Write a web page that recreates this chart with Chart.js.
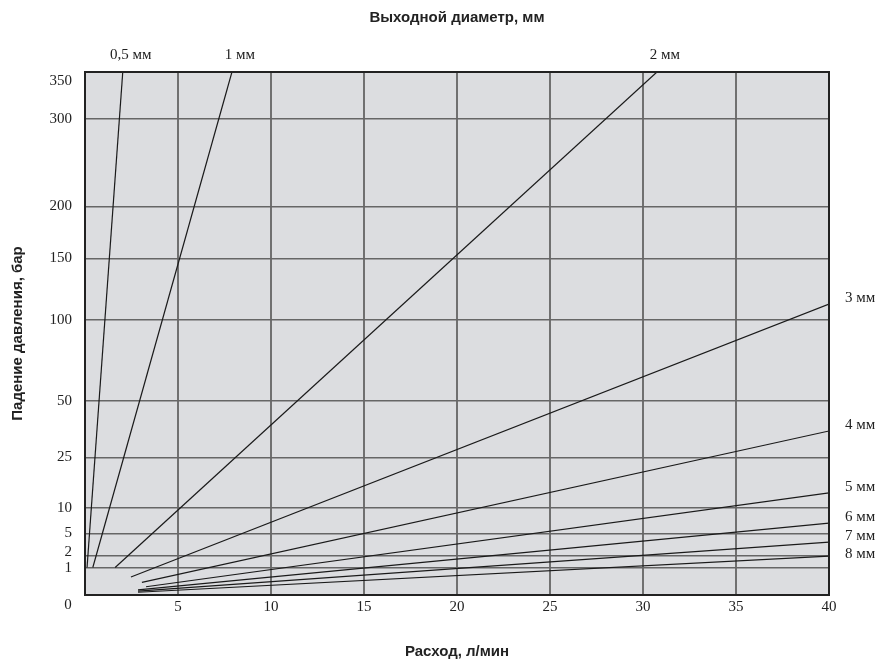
<!DOCTYPE html>
<html>
<head>
  <title>Падение давления</title>
  <script src="https://cdn.jsdelivr.net/npm/chart.js"></script>
  <style>
    body { margin: 0; background: #fff; }
    canvas { display: block; }
  </style>
</head>
<body>
  <canvas id="chart" width="878" height="661"></canvas>
  <script>
    // nozzle diameters and two ends of each line (flow l/min, pressure drop bar)
    const seriesLabels = ['0,5 мм', '1 мм', '2 мм', '3 мм', '4 мм', '5 мм', '6 мм', '7 мм', '8 мм'];
    const flowStart = [0.11, 0.42, 1.62, 2.47, 3.06, 3.28, 2.85, 2.85, 2.85];
    const dropStart = [1, 1, 1, 0.43, 0.21, 0.09, 0.035, 0.019, 0.010];
    const flowEnd = [2.03, 7.9, 30.75, 40, 40, 40, 40, 40, 40];
    const dropEnd = [362, 362, 362, 112, 35.6, 13.8, 6.85, 3.7, 2.0];

    const xTicks = [0, 5, 10, 15, 20, 25, 30, 35, 40];
    const yTicks = [0, 1, 2, 5, 10, 25, 50, 100, 150, 200, 300, 350];
    const yMax = 362;
    // small ticks that sit too close together: label drawn by hand with a nudge
    const nudgedTicks = [1, 2];
    const nudge = [1, -4];

    // square-root axis: pressure drop grows with flow squared
    class SqrtScale extends Chart.LinearScale {
      static id = 'sqrt';
      static defaults = { ticks: { callback: Chart.Ticks.formatters.numeric } };
      getPixelForValue(value) {
        const lo = Math.sqrt(Math.max(this.min, 0)), hi = Math.sqrt(this.max);
        return this.getPixelForDecimal((Math.sqrt(Math.max(value, 0)) - lo) / (hi - lo));
      }
      getValueForPixel(pixel) {
        const lo = Math.sqrt(Math.max(this.min, 0)), hi = Math.sqrt(this.max);
        const s = lo + this.getDecimalForPixel(pixel) * (hi - lo);
        return s * s;
      }
    }
    Chart.register(SqrtScale);

    const serif = { family: '"Liberation Serif", "Times New Roman", serif', size: 15 };
    const sansBold = { family: '"Liberation Sans", Arial, sans-serif', size: 15, weight: 'bold' };

    const plotFrame = {
      id: 'plotFrame',
      beforeDraw(chart) {
        const { ctx, chartArea: a } = chart;
        ctx.save();
        ctx.fillStyle = '#dcdde0';
        ctx.fillRect(a.left, a.top, a.right - a.left, a.bottom - a.top);
        ctx.restore();
      },
      afterDatasetsDraw(chart) {
        const { ctx, chartArea: a } = chart;
        ctx.save();
        ctx.strokeStyle = '#222';
        ctx.lineWidth = 2;
        ctx.strokeRect(a.left, a.top, a.right - a.left, a.bottom - a.top);
        ctx.restore();
      },
      afterDraw(chart) {
        const { ctx, chartArea: a } = chart;
        const yScale = chart.scales.y;
        ctx.save();
        ctx.font = '15px "Liberation Serif", serif';
        ctx.fillStyle = '#222';
        ctx.textBaseline = 'middle';
        // shared origin label
        ctx.textAlign = 'center';
        ctx.fillText('0', a.left - 17, a.bottom + 10);
        ctx.textAlign = 'right';
        nudgedTicks.forEach((v, i) => {
          ctx.fillText(String(v), a.left - 13, yScale.getPixelForValue(v) + nudge[i]);
        });
        // diameter labels at line ends
        let lastY = -Infinity;
        chart.data.datasets.forEach((ds, i) => {
          const pts = chart.getDatasetMeta(i).data;
          const end = pts[pts.length - 1];
          if (dropEnd[i] >= yMax) {
            ctx.textAlign = 'center';
            ctx.fillText(ds.label, end.x + 8, a.top - 17);
          } else {
            let y = Math.max(end.y - 6, lastY + 18);
            lastY = y;
            ctx.textAlign = 'left';
            ctx.fillText(ds.label, a.right + 16, y);
          }
        });
        ctx.restore();
      }
    };

    new Chart(document.getElementById('chart'), {
      type: 'line',
      data: {
        datasets: seriesLabels.map((label, i) => ({
          label: label,
          data: [{ x: flowStart[i], y: dropStart[i] }, { x: flowEnd[i], y: dropEnd[i] }],
          borderColor: '#1a1a1a',
          borderWidth: 1.2,
          pointRadius: 0,
          fill: false
        }))
      },
      options: {
        responsive: false,
        animation: false,
        layout: { padding: { right: 49, top: 0, bottom: 0, left: 0 } },
        plugins: {
          legend: { display: false },
          tooltip: { enabled: false },
          title: {
            display: true,
            text: 'Выходной диаметр, мм',
            fullSize: false,
            color: '#222',
            font: sansBold,
            padding: { top: 9, bottom: 45 }
          }
        },
        scales: {
          x: {
            type: 'linear',
            min: 0,
            max: 40,
            afterBuildTicks: s => { s.ticks = xTicks.map(v => ({ value: v })); },
            afterFit: s => { s.height = 66; },
            ticks: {
              color: '#222',
              font: serif,
              padding: 3,
              maxRotation: 0,
              callback: v => (v === 0 ? '' : String(v))
            },
            grid: { color: '#707070', lineWidth: 2, drawTicks: false },
            border: { display: false },
            title: {
              display: true,
              text: 'Расход, л/мин',
              color: '#222',
              font: sansBold,
              padding: { top: 0, bottom: 0 }
            }
          },
          y: {
            type: 'sqrt',
            min: 0,
            max: yMax,
            afterBuildTicks: s => { s.ticks = yTicks.map(v => ({ value: v })); },
            afterFit: s => { s.width = 85; },
            ticks: {
              color: '#222',
              font: serif,
              padding: 13,
              autoSkip: false,
              callback: v => (v === 0 || nudgedTicks.includes(v) ? '' : String(v))
            },
            grid: {
              color: c => (c.tick && c.tick.value === 350 ? 'rgba(0,0,0,0)' : '#666'),
              lineWidth: 1.5,
              drawTicks: false
            },
            border: { display: false },
            title: {
              display: true,
              text: 'Падение давления, бар',
              color: '#222',
              font: sansBold,
              padding: { top: 9, bottom: 0 }
            }
          }
        }
      },
      plugins: [plotFrame]
    });
  </script>
</body>
</html>
